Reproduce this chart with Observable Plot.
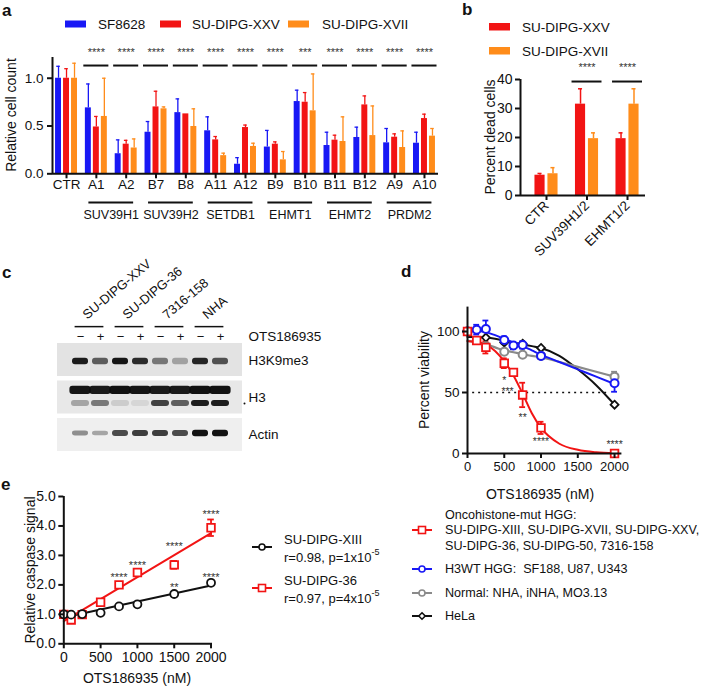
<!DOCTYPE html>
<html>
<head>
<meta charset="utf-8">
<script src="https://cdn.jsdelivr.net/npm/d3@7"></script>
<script src="https://cdn.jsdelivr.net/npm/@observablehq/plot@0.6"></script>
<style>
html,body{margin:0;padding:0;background:#fff;}
#page{position:relative;width:708px;height:692px;overflow:hidden;background:#fff;}
</style>
</head>
<body>
<div id="page"></div>
<script>
// ================= DATA =================
// ---- panel a ----
const groupsA = ["CTR","A1","A2","B7","B8","A11","A12","B9","B10","B11","B12","A9","A10"];
const seriesA = ["SF8628","SU-DIPG-XXV","SU-DIPG-XVII"];
const sf8628Mean = [1.00,0.69,0.21,0.435,0.64,0.45,0.10,0.28,0.756,0.296,0.38,0.324,0.32];
const sf8628Err  = [0.125,0.25,0.145,0.112,0.144,0.146,0.069,0.174,0.119,0.139,0.108,0.15,0.115];
const xxvMeanA   = [1.00,0.49,0.31,0.70,0.627,0.355,0.484,0.31,0.749,0.352,0.721,0.383,0.578];
const xxvErrA    = [0.10,0.11,0.04,0.164,0,0.035,0.026,0.024,0.101,0.052,0.094,0.035,0.046];
const xviiMeanA  = [1.00,0.60,0.27,0.68,0.495,0.19,0.286,0.146,0.659,0.338,0.40,0.275,0.394];
const xviiErrA   = [0.157,0.40,0.095,0.02,0.185,0.026,0.034,0.087,0.386,0.258,0.31,0.174,0.08];
const starsA     = ["","****","****","****","****","****","****","****","***","****","****","****","****"];
const genesA     = ["SUV39H1","SUV39H2","SETDB1","EHMT1","EHMT2","PRDM2"];
const geneGroupsA = [["A1","A2"],["B7","B8"],["A11","A12"],["B9","B10"],["B11","B12"],["A9","A10"]];

// ---- panel b ----
const groupsB = ["CTR","SUV39H1/2","EHMT1/2"];
const seriesB = ["SU-DIPG-XXV","SU-DIPG-XVII"];
const xxvMeanB  = [7.0,31.5,19.6];
const xxvErrB   = [0.6,5.3,2.0];
const xviiMeanB = [7.5,19.6,31.5];
const xviiErrB  = [2.1,2.0,5.3];
const starsB    = ["","****","****"];

// ---- panel c (western blot band intensities, 0..1) ----
const samplesC = ["SU-DIPG-XXV","SU-DIPG-36","7316-158","NHA"];
const signsC   = ["\u2212","+","\u2212","+","\u2212","+","\u2212","+"];
const blotsC   = ["H3K9me3","H3","Actin"];
const h3k9me3Band = [0.92,0.62,0.95,0.85,0.5,0.3,0.88,0.68];
const h3UpperBand = [0.95,0.93,0.97,0.95,0.93,0.93,0.97,0.97];
const h3LowerBand = [0.3,0.5,0.12,0.08,0.75,0.62,0.92,0.92];
const actinBand   = [0.42,0.32,0.72,0.78,0.78,0.72,0.97,0.97];

// ---- panel d ----
const dosesD    = [0,125,250,500,625,750,1000,2000];
const oncoD     = [100,92.6,87,74,66.5,48,21,0];
const oncoErrD  = [0,2,5,4,2,10,5,0];
const h3wtD     = [100,101.5,102,93,88.5,89,80,57.6];
const h3wtErrD  = [0,4,7,3,3,3,2,7];
const dosesND   = [0,250,500,750,1000,2000];
const normalD   = [100,88,83.5,81,80,63];
const normalErrD= [0,2,2,2,2,4];
const helaD     = [100,95,91,90,86.5,40];
const fitDosesD = [0,125,250,375,500,625,750,875,1000,1250,1500,1750,2000];
const oncoFitD  = [92,91.5,89.5,84,75.5,64,49,33,21,8,3,1,0.3];
const h3wtFitD  = [101,100.5,99.5,97,94,91,88,84.5,81,75,69,63,57];
const normalFitD= [92.5,91,89.5,87,84.5,83,81.5,80,79,75,71,67,63];
const helaFitD  = [95.5,95.5,95,94,92.5,91,89.5,88,86.5,80,69,56,40];
const starsD    = [{x:500,y:62.5,t:"*"},{x:545,y:53.5,t:"***"},{x:750,y:31.5,t:"**"},{x:1000,y:12,t:"****"},{x:2000,y:10,t:"****"}];
const halfD = 50;

// ---- panel e ----
const dosesE   = [0,100,250,500,750,1000,1500,2000];
const xiiiE    = [1.0,0.99,1.01,1.05,1.27,1.34,1.69,2.07];
const xiiiErrE = [0.02,0.02,0.03,0.04,0.03,0.03,0.06,0.04];
const d36E     = [1.0,0.81,0.99,1.41,2.0,2.42,2.68,3.94];
const d36ErrE  = [0.03,0.05,0.04,0.06,0.1,0.1,0.13,0.28];
const fitXE    = [0,2000];
const xiiiFitE = [0.89,1.98];
const d36FitE  = [0.77,3.76];
const starsE   = [{x:750,y:2.35,t:"****"},{x:1000,y:2.76,t:"****"},{x:1500,y:3.4,t:"****"},{x:2000,y:4.49,t:"****"},{x:1500,y:2.01,t:"**"},{x:2000,y:2.35,t:"****"}];

// ================= RENDER =================
const FONT = "'Liberation Sans', Arial, Helvetica, sans-serif";
const W = 708, H = 692;
const page = document.getElementById("page");
const RED = "#f21414", BLUE = "#1818f5", ORANGE = "#ff8c1a", GRAY = "#8a8a8a", BLACK = "#111";
const fmtInt = d3.format("d");
function addPlot(opts){
  const svg = Plot.plot(Object.assign({
    width: W, height: H,
    style: {position:"absolute", left:"0px", top:"0px", background:"transparent", overflow:"visible", fontFamily: FONT, fontSize:"13px", color:"#111"}
  }, opts));
  page.appendChild(svg);
}
function frame(l, r, t, b){ return {marginLeft:l, marginRight:W-r, marginTop:t, marginBottom:H-b}; }
const AX = {strokeWidth: 2, fontSize: 13, label: null};

// ---- panel a ----
{
  const offA = [-0.268, 0, 0.268], hw = 0.1;
  const means = [sf8628Mean, xxvMeanA, xviiMeanA], errs = [sf8628Err, xxvErrA, xviiErrA];
  const rows = groupsA.flatMap((g,i)=>seriesA.map((s,j)=>({i, j, s, v: means[j][i], e: errs[j][i]})));
  const cx = d => d.i + offA[d.j];
  const xDom = [-0.47, 12.47];
  const idx = d3.range(groupsA.length).filter(i => starsA[i]);
  const genes = genesA.map((g,k)=>({g, a: groupsA.indexOf(geneGroupsA[k][0]), b: groupsA.indexOf(geneGroupsA[k][1])}));
  addPlot({
    ...frame(52, 438, 57, 173.3),
    x: {domain: xDom}, y: {domain: [0, 1.217]},
    color: {domain: seriesA, range: [BLUE, RED, ORANGE]},
    marks: [
      Plot.rect(rows, {x1: d=>cx(d)-hw, x2: d=>cx(d)+hw, y1: d=>0, y2: "v", fill: "s"}),
      Plot.ruleX(rows.filter(d=>d.e>0), {x: cx, y1: "v", y2: d=>d.v+d.e, stroke: "s", strokeWidth: 1.3}),
      Plot.ruleY(rows.filter(d=>d.e>0), {y: d=>d.v+d.e, x1: d=>cx(d)-0.06, x2: d=>cx(d)+0.06, stroke: "s", strokeWidth: 1.3}),
      Plot.ruleY([0], {strokeWidth: 2}),
      Plot.ruleX([xDom[0]], {strokeWidth: 2}),
      Plot.axisY({...AX, ticks: [0,0.5,1], tickFormat: d3.format(".1f"), tickSize: 5, tickPadding: 4, fontSize: 13.5}),
      Plot.axisX({...AX, ticks: d3.range(groupsA.length), tickFormat: i=>groupsA[i], tickSize: 5, tickPadding: 1, fontSize: 13.5}),
      Plot.ruleY(idx, {y: i=>1.133, x1: i=>i-0.42, x2: i=>i+0.42, strokeWidth: 2}),
      Plot.text(idx, {x: i=>i, y: i=>1.30, text: i=>starsA[i], fontSize: 11, fill: "#333", dy: 3}),
      Plot.ruleY(genes, {y: d=>-0.30, x1: d=>d.a-0.25, x2: d=>d.b+0.25, strokeWidth: 2}),
      Plot.text(genes, {x: d=>(d.a+d.b)/2, y: d=>-0.436, text: "g", fontSize: 12.5})
    ]
  });
}

// ---- panel b ----
{
  const offB = [-0.16, 0.16], hw = 0.125;
  const means = [xxvMeanB, xviiMeanB], errs = [xxvErrB, xviiErrB];
  const rows = groupsB.flatMap((g,i)=>seriesB.map((s,j)=>({i, j, s, v: means[j][i], e: errs[j][i]})));
  const cx = d => d.i + offB[d.j];
  const xDom = [-0.642, 2.444];
  const idx = d3.range(groupsB.length).filter(i => starsB[i]);
  addPlot({
    ...frame(520, 645, 79, 195),
    x: {domain: xDom}, y: {domain: [0, 40]},
    color: {domain: seriesB, range: [RED, ORANGE]},
    marks: [
      Plot.rect(rows, {x1: d=>cx(d)-hw, x2: d=>cx(d)+hw, y1: d=>0, y2: "v", fill: "s"}),
      Plot.ruleX(rows, {x: cx, y1: "v", y2: d=>d.v+d.e, stroke: "s", strokeWidth: 1.5}),
      Plot.ruleY(rows, {y: d=>d.v+d.e, x1: d=>cx(d)-0.05, x2: d=>cx(d)+0.05, stroke: "s", strokeWidth: 1.5}),
      Plot.ruleY([0], {strokeWidth: 2}),
      Plot.ruleX([xDom[0]], {strokeWidth: 2}),
      Plot.axisY({...AX, ticks: [0,10,20,30,40], tickSize: 5, tickPadding: 3, fontSize: 14}),
      Plot.axisX({...AX, ticks: d3.range(groupsB.length), tickFormat: i=>groupsB[i], tickSize: 5, tickPadding: 3, tickRotate: -45, fontSize: 13.5}),
      Plot.ruleY(idx, {y: i=>39.3, x1: i=>i-0.37, x2: i=>i+0.37, strokeWidth: 2}),
      Plot.text(idx, {x: i=>i, y: i=>45.2, text: i=>starsB[i], fontSize: 11, fill: "#333", dy: 3})
    ]
  });
}

// ---- panel c ----
{
  const lanes = d3.range(signsC.length);
  const bgFill = ["#e3e3e3","#e8e8e8","#efefef"];
  const bands = [
    ...h3k9me3Band.map((v,l)=>({l, row: 0.48, h: 0.085, w: 0.4, v})),
    ...h3UpperBand.map((v,l)=>({l, row: 1.25, h: 0.11, w: 0.53, v})),
    ...h3LowerBand.map((v,l)=>({l, row: 1.60, h: 0.08, w: 0.45, v})),
    ...actinBand.map((v,l)=>({l, row: 2.40, h: 0.045 + 0.045*v, w: 0.4, v}))
  ];
  const pairs = samplesC.map((s,k)=>({s, a: 2*k, b: 2*k+1}));
  addPlot({
    ...frame(57, 242, 343, 451),
    x: {domain: [-1.15, 8.1], axis: null}, y: {domain: [0, 2.88], reverse: true, axis: null},
    marks: [
      Plot.rect(blotsC, {x1: d=>-1.15, x2: d=>8.1, y1: (d,i)=>i, y2: (d,i)=>i+0.88, fill: (d,i)=>bgFill[i]}),
      Plot.rect(bands, {x1: d=>d.l-d.w, x2: d=>d.l+d.w, y1: d=>d.row-d.h, y2: d=>d.row+d.h, fill: "#0a0a0a", fillOpacity: "v", rx: 3}),
      Plot.text(lanes, {x: l=>l, y: l=>-0.19, text: l=>signsC[l], fontSize: 13}),
      Plot.ruleY(pairs, {y: d=>-0.45, x1: d=>d.a-0.27, x2: d=>d.b+0.17, strokeWidth: 1.5}),
      Plot.text(pairs, {x: d=>d.a+0.2, y: d=>-0.72, text: "s", rotate: -40, textAnchor: "start", fontSize: 13}),
      Plot.text(["OTS186935"], {x: d=>8.4, y: d=>-0.19, text: d=>d, textAnchor: "start", fontSize: 13.5}),
      Plot.text(blotsC, {x: d=>8.4, y: (d,i)=>[0.45,1.45,2.42][i], text: d=>d, textAnchor: "start", fontSize: 13.5}),
      Plot.dot(["H3"], {x: d=>8.2, y: d=>1.6, r: 1, fill: "#111"})
    ]
  });
}

// ---- panel d ----
{
  const mk = (doses, vals, errs, g) => doses.map((x,i)=>({x, y: vals[i], e: errs ? errs[i] : 0, g}));
  const onco = mk(dosesD, oncoD, oncoErrD, "onco");
  const h3wt = mk(dosesD, h3wtD, h3wtErrD, "h3wt");
  const norm = mk(dosesND, normalD, normalErrD, "normal");
  const hela = mk(dosesND, helaD, null, "hela");
  const fit = (vals, g) => fitDosesD.map((x,i)=>({x, y: vals[i], g}));
  const err = arr => arr.filter(d=>d.e>0);
  const errMarks = (arr, c) => [
    Plot.ruleX(err(arr), {x: "x", y1: d=>d.y-d.e, y2: d=>d.y+d.e, stroke: c, strokeWidth: 1.8}),
    Plot.ruleY(err(arr), {y: d=>d.y+d.e, x1: d=>d.x-40, x2: d=>d.x+40, stroke: c, strokeWidth: 1.8}),
    Plot.ruleY(err(arr), {y: d=>d.y-d.e, x1: d=>d.x-40, x2: d=>d.x+40, stroke: c, strokeWidth: 1.8})
  ];
  const xDom = [0, 2100];
  addPlot({
    ...frame(467, 621.4, 306.6, 453),
    x: {domain: xDom}, y: {domain: [0, 120]},
    marks: [
      Plot.ruleY([halfD], {x1: d=>70, x2: d=>1920, strokeDasharray: "2,4", strokeWidth: 1.6, stroke: "#111"}),
      Plot.line(fit(helaFitD), {x: "x", y: "y", stroke: BLACK, strokeWidth: 2, curve: "monotone-x"}),
      Plot.line(fit(normalFitD), {x: "x", y: "y", stroke: GRAY, strokeWidth: 2.2, curve: "monotone-x"}),
      Plot.line(fit(h3wtFitD), {x: "x", y: "y", stroke: BLUE, strokeWidth: 2, curve: "monotone-x"}),
      Plot.line(fit(oncoFitD), {x: "x", y: "y", stroke: RED, strokeWidth: 2, curve: "monotone-x"}),
      ...errMarks(norm, GRAY),
      ...errMarks(h3wt, BLUE),
      ...errMarks(onco, RED),
      Plot.dot(hela, {x: "x", y: "y", symbol: "diamond2", r: 3.6, fill: "white", stroke: BLACK, strokeWidth: 1.8}),
      Plot.dot(norm, {x: "x", y: "y", symbol: "circle", r: 4, fill: "white", stroke: GRAY, strokeWidth: 2}),
      Plot.dot(h3wt, {x: "x", y: "y", symbol: "circle", r: 4, fill: "white", stroke: BLUE, strokeWidth: 2}),
      Plot.dot(onco, {x: "x", y: "y", symbol: "square", r: 4.3, fill: "white", stroke: RED, strokeWidth: 1.8}),
      Plot.text(starsD, {x: "x", y: "y", text: "t", fontSize: 10.5, fill: "#333", dy: 3}),
      Plot.ruleY([0], {strokeWidth: 2}),
      Plot.ruleX([0], {strokeWidth: 2}),
      Plot.axisY({...AX, ticks: [0,50,100], tickSize: 5, tickPadding: 3, fontSize: 13.5}),
      Plot.axisX({...AX, ticks: [0,500,1000,1500,2000], tickFormat: fmtInt, tickSize: 5, tickPadding: 3, fontSize: 13})
    ]
  });
}

// ---- panel e ----
{
  const mk = (vals, errs) => dosesE.map((x,i)=>({x, y: vals[i], e: errs[i]}));
  const xiii = mk(xiiiE, xiiiErrE), d36 = mk(d36E, d36ErrE);
  const errMarks = (arr, c) => [
    Plot.ruleX(arr, {x: "x", y1: d=>d.y-d.e, y2: d=>d.y+d.e, stroke: c, strokeWidth: 1.8}),
    Plot.ruleY(arr, {y: d=>d.y+d.e, x1: d=>d.x-45, x2: d=>d.x+45, stroke: c, strokeWidth: 1.8}),
    Plot.ruleY(arr, {y: d=>d.y-d.e, x1: d=>d.x-45, x2: d=>d.x+45, stroke: c, strokeWidth: 1.8})
  ];
  addPlot({
    ...frame(63.3, 212, 496, 643.3),
    x: {domain: [0, 2020]}, y: {domain: [0, 5]},
    marks: [
      Plot.line(fitXE.map((x,i)=>({x, y: xiiiFitE[i]})), {x: "x", y: "y", stroke: BLACK, strokeWidth: 2}),
      Plot.line(fitXE.map((x,i)=>({x, y: d36FitE[i]})), {x: "x", y: "y", stroke: RED, strokeWidth: 2}),
      ...errMarks(d36, RED),
      ...errMarks(xiii, BLACK),
      Plot.dot(d36, {x: "x", y: "y", symbol: "square", r: 4.3, fill: "white", stroke: RED, strokeWidth: 1.8}),
      Plot.dot(xiii, {x: "x", y: "y", symbol: "circle", r: 4, fill: "white", stroke: BLACK, strokeWidth: 1.8}),
      Plot.text(starsE, {x: "x", y: "y", text: "t", fontSize: 11, fill: "#333", dy: 3}),
      Plot.ruleY([0], {strokeWidth: 2}),
      Plot.ruleX([0], {strokeWidth: 2}),
      Plot.axisY({...AX, ticks: [0,1,2,3,4,5], tickSize: 5, tickPadding: 3, fontSize: 14}),
      Plot.axisX({...AX, ticks: [0,500,1000,1500,2000], tickFormat: fmtInt, tickSize: 5, tickPadding: 3, fontSize: 14})
    ]
  });
}

// ================= ANNOTATIONS (letters, titles, legends) =================
const ann = d3.select(page).append("svg")
  .attr("width", W).attr("height", H)
  .style("position","absolute").style("left","0px").style("top","0px").style("overflow","visible")
  .style("font-family", FONT).style("fill","#111");
function txt(x, y, s, o = {}) {
  const t = ann.append("text").attr("x", x).attr("y", y).attr("dominant-baseline", o.base || "central")
    .attr("font-size", o.size || 13.5).attr("text-anchor", o.anchor || "start").attr("fill", "#111");
  if (o.bold) t.attr("font-weight", "bold");
  if (o.rot) t.attr("transform", `rotate(${o.rot},${x},${y})`);
  t.text(s);
  return t;
}
// panel letters
txt(2, 16, "a", {size: 17, bold: true, base: "alphabetic"});
txt(462, 15, "b", {size: 17, bold: true, base: "alphabetic"});
txt(2, 278, "c", {size: 17, bold: true, base: "alphabetic"});
txt(401, 277, "d", {size: 17, bold: true, base: "alphabetic"});
txt(1, 490, "e", {size: 17, bold: true, base: "alphabetic"});
// axis titles
txt(11, 115, "Relative cell count", {size: 14, anchor: "middle", rot: -90});
txt(490, 137, "Percent dead cells", {size: 14, anchor: "middle", rot: -90});
txt(424, 380, "Percent viability", {size: 14, anchor: "middle", rot: -90});
txt(540, 494, "OTS186935 (nM)", {size: 14, anchor: "middle"});
txt(30, 570, "Relative caspase signal", {size: 14, anchor: "middle", rot: -90});
txt(137, 678, "OTS186935 (nM)", {size: 14, anchor: "middle"});
// legend a
[[65, BLUE, 98, seriesA[0]], [160, RED, 192, seriesA[1]], [288, ORANGE, 322, seriesA[2]]].forEach(([sx, c, tx, s]) => {
  ann.append("rect").attr("x", sx).attr("y", 20.5).attr("width", 21).attr("height", 7).attr("fill", c);
  txt(tx, 24, s, {size: 13.5});
});
// legend b
[[23, RED, 27, seriesB[0]], [47, ORANGE, 51, seriesB[1]]].forEach(([sy, c, ty, s]) => {
  ann.append("rect").attr("x", 489).attr("y", sy).attr("width", 21).attr("height", 7.5).attr("fill", c);
  txt(522, ty, s, {size: 13.5});
});
// legend symbols
function legSym(x, y, c, sym) {
  ann.append("line").attr("x1", x).attr("x2", x+20).attr("y1", y).attr("y2", y).attr("stroke", c).attr("stroke-width", 2);
  const cx = x + 10;
  if (sym === "square") ann.append("rect").attr("x", cx-3.5).attr("y", y-3.5).attr("width", 7).attr("height", 7).attr("fill","white").attr("stroke", c).attr("stroke-width", 1.6);
  else if (sym === "diamond") ann.append("path").attr("d", `M${cx},${y-3.2}L${cx+3.2},${y}L${cx},${y+3.2}L${cx-3.2},${y}Z`).attr("fill","white").attr("stroke", c).attr("stroke-width", 1.6);
  else ann.append("circle").attr("cx", cx).attr("cy", y).attr("r", 3).attr("fill","white").attr("stroke", c).attr("stroke-width", 1.6);
}
// legend e
legSym(252, 547, BLACK, "circle");
txt(284, 539, "SU-DIPG-XIII", {size: 13});
{ const t = txt(284, 557, "r=0.98, p=1x10", {size: 13}); t.append("tspan").attr("font-size", 9).attr("dy", -5).text("-5"); }
legSym(252, 588, RED, "square");
txt(284, 580, "SU-DIPG-36", {size: 13});
{ const t = txt(284, 598, "r=0.97, p=4x10", {size: 13}); t.append("tspan").attr("font-size", 9).attr("dy", -5).text("-5"); }
// legend d
const LD = {size: 12.6};
legSym(412, 530, RED, "square");
txt(445, 515, "Oncohistone-mut HGG:", LD);
txt(445, 530, "SU-DIPG-XIII, SU-DIPG-XVII, SU-DIPG-XXV,", LD);
txt(445, 546, "SU-DIPG-36, SU-DIPG-50, 7316-158", LD);
legSym(412, 569, BLUE, "circle");
txt(445, 569, "H3WT HGG:\u00a0\u00a0SF188, U87, U343", LD);
legSym(412, 593, GRAY, "circle");
txt(445, 593, "Normal: NHA, iNHA, MO3.13", LD);
legSym(412, 616, BLACK, "diamond");
txt(445, 616, "HeLa", LD);
</script>
</body>
</html>
